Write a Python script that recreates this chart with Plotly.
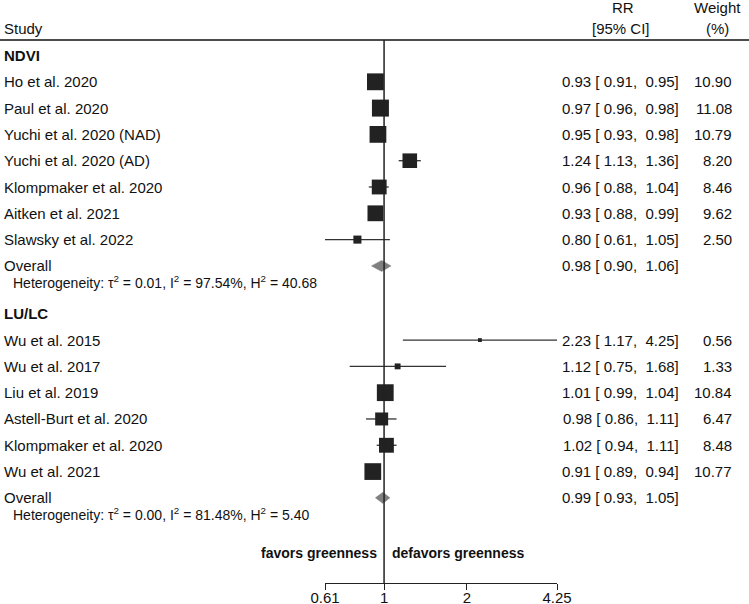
import math
import plotly.graph_objects as go

# ---------------- data ----------------
ndvi_studies = ["Ho et al. 2020", "Paul et al. 2020", "Yuchi et al. 2020 (NAD)",
                "Yuchi et al. 2020 (AD)", "Klompmaker et al. 2020", "Aitken et al. 2021",
                "Slawsky et al. 2022"]
ndvi_rr = [0.93, 0.97, 0.95, 1.24, 0.96, 0.93, 0.80]
ndvi_lo = [0.91, 0.96, 0.93, 1.13, 0.88, 0.88, 0.61]
ndvi_hi = [0.95, 0.98, 0.98, 1.36, 1.04, 0.99, 1.05]
ndvi_w = [10.90, 11.08, 10.79, 8.20, 8.46, 9.62, 2.50]
ndvi_overall = [0.98, 0.90, 1.06]
ndvi_het = "Heterogeneity: τ<sup>2</sup> = 0.01, I<sup>2</sup> = 97.54%, H<sup>2</sup> = 40.68"

lulc_studies = ["Wu et al. 2015", "Wu et al. 2017", "Liu et al. 2019",
                "Astell-Burt et al. 2020", "Klompmaker et al. 2020", "Wu et al. 2021"]
lulc_rr = [2.23, 1.12, 1.01, 0.98, 1.02, 0.91]
lulc_lo = [1.17, 0.75, 0.99, 0.86, 0.94, 0.89]
lulc_hi = [4.25, 1.68, 1.04, 1.11, 1.11, 0.94]
lulc_w = [0.56, 1.33, 10.84, 6.47, 8.48, 10.77]
lulc_overall = [0.99, 0.93, 1.05]
lulc_het = "Heterogeneity: τ<sup>2</sup> = 0.00, I<sup>2</sup> = 81.48%, H<sup>2</sup> = 5.40"

tick_vals = [0.61, 1, 2, 4.25]
tick_text = ["0.61", "1", "2", "4.25"]

groups = [
    ("NDVI", ndvi_studies, ndvi_rr, ndvi_lo, ndvi_hi, ndvi_w, ndvi_overall, ndvi_het),
    ("LU/LC", lulc_studies, lulc_rr, lulc_lo, lulc_hi, lulc_w, lulc_overall, lulc_het),
]

# ---------------- layout constants ----------------
W, H = 749, 604
ROW0_PX, ROW_PX = 55.5, 26.3
AXIS_PX, TOP_PX = 583, 40
X_LEFT_PX, X_RIGHT_PX = 325, 557
FONT = "Liberation Sans, Arial, sans-serif"
TXT = "#111111"
NB = "\u00a0"

def fmt_ci(e, l, h):
    return f"{e:.2f} [{NB}{l:.2f},{NB}{NB}{h:.2f}]"

fig = go.Figure()
annotations = []

def add_text(x_px, y, text, anchor="left", size=15, bold=False, yref="y"):
    annotations.append(dict(
        x=x_px / W, xref="paper", y=y, yref=yref, text=f"<b>{text}</b>" if bold else text,
        showarrow=False, xanchor=anchor, yanchor="middle", borderpad=0,
        font=dict(family=FONT, size=size, color=TXT)))

group_starts = [0.0, 9.82]
ci_x, ci_y = [], []
sq_x, sq_y, sq_s = [], [], []

for (gname, studies, rr, lo, hi, w, ov, het), start in zip(groups, group_starts):
    add_text(3, start, gname, bold=True)
    for i, name in enumerate(studies):
        r = start + 1 + i
        add_text(3, r, name)
        add_text(680, r, fmt_ci(rr[i], lo[i], hi[i]), anchor="right")
        add_text(733, r, f"{w[i]:.2f}", anchor="right")
        ci_x += [lo[i], hi[i], None]
        ci_y += [r, r, None]
        sq_x.append(rr[i]); sq_y.append(r); sq_s.append(5.1 * math.sqrt(w[i]))
    r_ov = start + 1 + len(studies)
    add_text(3, r_ov, "Overall")
    add_text(680, r_ov, fmt_ci(*ov), anchor="right")
    add_text(12, r_ov + 0.6, het, size=14)
    dh = 0.21
    fig.add_trace(go.Scatter(
        x=[ov[1], ov[0], ov[2], ov[0], ov[1]],
        y=[r_ov, r_ov - dh, r_ov, r_ov + dh, r_ov],
        mode="lines", fill="toself", fillcolor="#7f7f7f",
        line=dict(color="#7f7f7f", width=0.5), hoverinfo="skip", showlegend=False))

fig.add_trace(go.Scatter(x=ci_x, y=ci_y, mode="lines",
                         line=dict(color="#333333", width=1.3),
                         hoverinfo="skip", showlegend=False))
fig.add_trace(go.Scatter(x=sq_x, y=sq_y, mode="markers",
                         marker=dict(symbol="square", size=sq_s, color="#222222",
                                     opacity=1, line=dict(width=0)),
                         showlegend=False))

# headers
add_text(3, 28, "Study", yref="px")
add_text(623, 7, "RR", anchor="center", yref="px")
add_text(621, 28, "[95% CI]", anchor="center", yref="px")
add_text(717, 7, "Weight", anchor="center", yref="px")
add_text(717, 28, "(%)", anchor="center", yref="px")

# favors
fav_row = 18.92
add_text(378, fav_row, "favors greenness", anchor="right", size=14, bold=True)
add_text(391, fav_row, "defavors greenness", anchor="left", size=14, bold=True)

for a in annotations:
    if a["yref"] == "px":
        a["y"] = 1 - a["y"] / H
        a["yref"] = "paper"

y_top = (0 - ROW0_PX) / ROW_PX
y_bot = (H - ROW0_PX) / ROW_PX

shapes = [
    dict(type="line", xref="paper", yref="paper", x0=0, x1=1,
         y0=1 - TOP_PX / H, y1=1 - TOP_PX / H, line=dict(color="#111111", width=1.6)),
    dict(type="line", xref="x", yref="paper", x0=1, x1=1,
         y0=1 - AXIS_PX / H, y1=1 - TOP_PX / H, line=dict(color="#222222", width=1.5)),
]

fig.update_layout(
    width=W, height=H, autosize=False,
    margin=dict(l=0, r=0, t=0, b=0, pad=0, autoexpand=False),
    paper_bgcolor="white", plot_bgcolor="white",
    showlegend=False, annotations=annotations, shapes=shapes,
    xaxis=dict(type="log", domain=[X_LEFT_PX / W, X_RIGHT_PX / W],
               range=[math.log10(0.61), math.log10(4.25)],
               anchor="free", position=1 - AXIS_PX / H, automargin=False,
               showline=True, linecolor="#222222", linewidth=1.3,
               ticks="outside", ticklen=6, tickwidth=1.3, tickcolor="#222222",
               ticklabelstandoff=-5,
               tickvals=tick_vals, ticktext=tick_text, showgrid=False, zeroline=False,
               tickfont=dict(family=FONT, size=15, color=TXT)),
    yaxis=dict(domain=[0, 1], range=[y_bot, y_top], visible=False, automargin=False,
               showgrid=False, zeroline=False),
)

fig.write_html("out.html", config={"displayModeBar": False, "responsive": False},
               post_script="document.body.style.margin='0px';")
